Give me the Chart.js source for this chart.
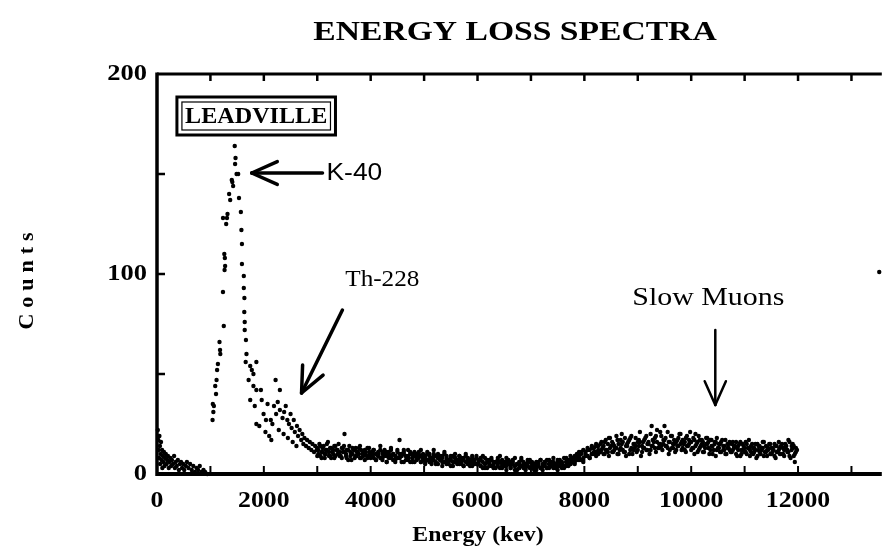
<!DOCTYPE html>
<html><head><meta charset="utf-8">
<script src="https://cdn.jsdelivr.net/npm/chart.js@4.4.1/dist/chart.umd.min.js"></script>
<style>html,body{margin:0;padding:0;background:#fff}canvas{display:block}</style>
</head><body>
<canvas id="c" width="884" height="555" style="width:884px;height:555px"></canvas>
<script>
// ---------- DATA ----------
const titleText = "ENERGY LOSS SPECTRA";
const xTitle = "Energy (kev)";
const yTitle = "Counts";
const xTickLabels = [0, 2000, 4000, 6000, 8000, 10000, 12000];
const yTickLabels = [0, 100, 200];

// low-energy noise 0-1000 keV
const lowE = [15,25,30,40,45,55,60,70,75,85,95,100,110,120,130,140,150,165,180,190,205,220,235,250,265,280,300,320,335,350,370,390,410,430,450,470,490,510,540,560,590,620,650,680,710,740,770,800,830,870,900,940];
const lowC = [22,17,12,8,19,14,5,10,16,7,12,3,9,6,11,4,8,10,5,7,9,3,6,8,4,7,5,9,3,6,4,7,2,5,6,3,5,2,4,6,3,5,2,4,1,3,2,4,1,2,1,0];

// K-40 peak
const peakE = [1040,1045,1055,1065,1090,1105,1115,1125,1140,1170,1180,1185,1250,1235,1265,1275,1270,1260,1295,1236,1310,1320,1370,1350,1400,1410,1425,1455,1462,1470,1490,1520,1535,
               1570,1580,1590,1590,1625,1625,1636,1634,1642,1642,1665,1675,1660,1745,1775,1805,1860,1715,1805,1860,1945,1745,1830,1860,1915];
const peakC = [27,35,31,34,44,40,47,52,55,66,62,60,74,91,102,104,108,110,125,128,128,130,137,140,147,146,144,164,155,158,150,150,138,
               131,122,115,105,99,93,88,81,76,72,67,60,56,54,52,50,56,47,44,42,42,37,34,25,24];

// Th-228 shoulder
const thE = [1960,2070,2190,2300,2410,2500,2220,2300,1995,2040,2130,2160,2100,2230,2260,2350,2380,2440,2470,2520,2560,2580,2620,2640,2670,2700,2720,2740,2760,2790,2810,2840,2860,2890,2910,2940,2960,2990,2030,2140,2280,2370,2450,2540,2610];
const thC = [37,35,34,32,34,30,47,42,30,27,27,25,19,30,36,28,31,27,25,23,27,21,24,19,22,17,20,15,18,14,17,13,16,12,15,11,14,12,21,17,22,20,18,16,14];

// continuum 3000-8300 keV (counts per channel)
const flatE = [3000,3040,3080,3120,3160,3200,3240,3280,3320,3360,3400,3440,3480,3510,3550,3600,3640,3680,3720,3760,3800,3850,3890,3930,3970,
  4000,4050,4100,4140,4180,4220,4260,4300,4340,4380,4420,4460,4500,4540,4580,4620,4660,4700,4740,4780,4820,4860,4900,4940,4980,
  5020,5060,5100,5140,5180,5220,5260,5300,5340,5380,5420,5460,5500,5540,5580,5620,5660,5700,5740,5780,5820,5860,5900,5940,5980,
  6020,6060,6100,6140,6180,6220,6260,6300,6340,6380,6420,6460,6500,6540,6580,6620,6660,6700,6740,6780,6820,6860,6900,6940,6980,
  7020,7060,7100,7140,7180,7220,7260,7300,7340,7380,7420,7460,7500,7540,7580,7620,7660,7700,7740,7780,7820,7860,7900,7940,7980,
  8020,8060,8100,8140,8180,8220,8260];
const flatC = [[13,9],[15],[11,8],[14],[10,12],[16],[9,13],[11],[14,8],[12],[10,15],[9],[13,11],[20],[8,12],[14],[10,7],[12],[9,13],[11],[8,14],[10],[12,7],[9],[13,11],
  [8],[10,12],[7],[11,9],[14],[8,10],[12],[6,9],[11],[8,13],[10],[7,9],[12],[8,17],[10],[6,11],[9],[7,12],[10],[8,6],[11],[9,7],[10],[6,12],[8],
  [9,5],[11],[7,10],[6],[9,12],[5],[8,10],[7],[6,9],[11],[5,8],[7],[9,4],[6],[8,10],[5],[7,9],[6],[8,4],[10],[5,7],[6],[9,4],[7],[5,8],
  [6],[4,7],[9],[5,3],[7],[4,6],[8],[3,5],[6],[4,7],[9],[5,3],[6],[4,8],[5],[3,6],[7],[4,2],[5],[6,3],[8],[4,5],[3],[6,4],[7],
  [3,5],[4],[6,2],[5],[3,7],[4],[6,5],[3],[5,7],[4],[6,3],[5],[7,4],[6],[3,5],[8],[4,6],[7],[5,9],[6],[8,5],[10],[7,9],[11],[8,6],
  [10],[12,9],[8],[13,10],[11],[14,9],[12]];
const flat2E = [3020,3060,3100,3140,3180,3220,3260,3300,3340,3380,3420,3460,3500,3540,3580,3620,3660,3700,3740,3780,3820,3860,3900,3940,3980,
  4020,4060,4100,4140,4180,4220,4260,4300,4340,4380,4420,4460,4500,4540,4580,4620,4660,4700,4740,4780,4820,4860,4900,4940,4980,
  5020,5060,5100,5140,5180,5220,5260,5300,5340,5380,5420,5460,5500,5540,5580,5620,5660,5700,5740,5780,5820,5860,5900,5940,5980,
  6020,6060,6100,6140,6180,6220,6260,6300,6340,6380,6420,6460,6500,6540,6580,6620,6660,6700,6740,6780,6820,6860,6900,6940,6980,
  7020,7060,7100,7140,7180,7220,7260,7300,7340,7380,7420,7460,7500,7540,7580,7620,7660,7700,7740,7780,
  7820,7860,7900,7940,7980,8020,8060,8100,8140,8180,8220,8260];
const flat2C = [[12,10],[9,14],[13,11],[10,8],[15,12],[11,9],[8,13],[12,10],[14,9],[10,12],[9,11],[13,8],[11,14],[10,9],[12,7],[9,11],[13,10],[8,12],[11,9],[10,13],[12,8],[9,11],[11,10],[8,13],[10,9],
  [9,11],[12,8],[7,10],[10,9],[8,12],[11,7],[9,10],[6,11],[10,8],[12,9],[7,10],[9,6],[11,8],[8,10],[6,9],[10,12],[7,9],[9,8],[11,6],[8,10],[6,9],[10,7],[8,11],[9,6],[7,10],
  [8,6],[10,7],[6,9],[8,5],[7,10],[9,6],[5,8],[7,9],[8,4],[6,10],[9,7],[5,6],[7,8],[4,9],[8,6],[6,7],[9,5],[5,8],[7,4],[6,9],[8,5],[4,7],[6,8],[7,5],[5,9],
  [7,5],[4,8],[6,3],[8,5],[3,6],[5,7],[7,4],[4,6],[6,3],[5,8],[3,6],[7,4],[4,5],[6,2],[5,7],[3,4],[6,5],[4,8],[2,5],[5,3],[7,4],[3,6],[5,2],[4,7],[6,3],
  [4,6],[2,5],[5,3],[6,4],[3,7],[5,2],[4,6],[7,3],[3,5],[6,4],[4,8],[5,3],[2,6],[7,4],[5,6],[4,3],[6,8],[5,4],[7,5],[8,6],
  [6,9],[9,7],[8,11],[10,7],[7,12],[11,9],[9,13],[12,8],[10,14],[13,10],[11,15],[14,10]];

// slow-muon bump 8300-12000 keV
const muonE = [8300,8340,8380,8420,8460,8500,8540,8580,8620,8660,8700,8740,8780,8820,8860,8900,8940,8980,9020,9060,9100,9140,9180,9220,9260,9300,9340,9380,9420,9460,
  9500,9540,9580,9620,9660,9700,9740,9780,9820,9860,9900,9940,9980,10020,10060,10100,10140,10180,10220,10260,10300,10340,10380,10420,10460,10500,10540,10580,10620,10660,
  10700,10740,10780,10820,10860,10900,10940,10980,11020,11060,11100,11140,11180,11220,11260,11300,11340,11380,11420,11460,11500,11540,11580,11620,11660,11700,11740,11780,11820,11860,11900,11940,11980];
const muonC = [[15,11],[13],[10,16],[12],[18,9],[14],[11,15],[13],[17,10],[12],[15,20],[11],[14,9],[16],[12,18],[10],[15,13],[11],[17,14],[9],[13,16],[18],[12,15],[10],[24,14],[16],[11,19],[13],[15,21],[12],
  [17,24],[14],[10,16],[19],[13,15],[11],[17,14],[20],[12,16],[15],[18,11],[14],[16,21],[13],[10,17],[15],[12,19],[14],[16,11],[13],[18,15],[10],[14,17],[12],[16,9],[13],[15,11],[17],[12,14],[10],
  [15,13],[11],[16,12],[14],[9,13],[15],[12,10],[14],[11,16],[13],[9,12],[15],[11,13],[8],[14,12],[10],[13,16],[11],[12,9],[15],[10,13],[12],[14,8],[11],[13,10],[15],[9,12],[14],[11,17],[8],[13,15],[10,6],[12]];
const muon2E = [8320,8360,8400,8440,8480,8520,8560,8600,8640,8680,8720,8760,8800,8840,8880,8920,8960,9000,9040,9080,
  9120,9160,9200,9240,9280,9320,9360,9400,9440,9480,9520,9560,9600,9640,9680,9720,9760,9800,9840,9880,
  9920,9960,10000,10040,10080,10120,10160,10200,10240,10280,10320,10360,10400,10440,10480,10520,10560,10600,10640,10680,
  10720,10760,10800,10840,10880,10920,10960,11000,11040,11080,11120,11160,11200,11240,11280,11320,11360,11400,11440,11480,
  11520,11560,11600,11640,11680,11720,11760,11800,11840,11880,11920,11960];
const muon2C = [[12,16],[14,10],[17,12],[11,15],[13,18],[16,11],[12,14],[19,13],[15,10],[13,17],
  [16,12],[11,18],[14,15],[17,10],[13,19],[15,12],[18,14],[12,16],[16,21],[14,11],
  [17,13],[12,19],[15,16],[20,12],[14,17],[18,13],[16,22],[13,15],[19,14],[15,17],
  [14,18],[21,13],[16,12],[13,19],[17,15],[12,16],[18,14],[15,20],[13,17],[16,12],
  [19,14],[15,17],[12,16],[18,13],[14,20],[16,11],[13,17],[17,15],[11,14],[15,18],
  [13,16],[17,12],[14,10],[16,15],[12,18],[15,13],[11,16],[14,12],[17,10],[13,15],
  [12,16],[15,11],[13,14],[10,16],[14,12],[16,9],[12,15],[11,13],[15,10],[13,17],
  [14,11],[10,13],[12,15],[15,9],[11,14],[13,12],[9,16],[14,11],[12,13],[10,15],
  [13,11],[15,9],[11,14],[12,16],[14,10],[10,13],[13,15],[11,12],[16,9],[12,14],
  [14,9],[11,13]];

// stray point at right edge
const strayE = [13520];
const strayC = [101];

// ---------- build points ----------
function pairs(es, cs){ return es.map((e,i)=>({x:e,y:cs[i]})); }
function multi(es, cs){ const out=[]; es.forEach((e,i)=>cs[i].forEach(c=>out.push({x:e,y:c}))); return out; }
const points = [].concat(pairs(lowE,lowC), pairs(peakE,peakC), pairs(thE,thC), multi(flatE,flatC), multi(flat2E,flat2C),
                         multi(muonE,muonC), multi(muon2E,muon2C), pairs(strayE,strayC));

// ---------- drawing helpers ----------
const SERIF = '"Liberation Serif","Times New Roman",serif';
const SANS = '"Liberation Sans",Arial,sans-serif';
function txt(ctx, s, x, y, font, sx, align){
  ctx.save(); ctx.translate(x,y); ctx.scale(sx,1);
  ctx.font=font; ctx.textAlign=align||'center'; ctx.textBaseline='middle'; ctx.fillStyle='#000';
  ctx.fillText(s,0,0); ctx.restore();
}
function line(ctx,x1,y1,x2,y2,w){ctx.beginPath();ctx.moveTo(x1,y1);ctx.lineTo(x2,y2);ctx.lineWidth=w;ctx.stroke();}
function arrow(ctx,x1,y1,x2,y2,w,len,half){
  ctx.lineCap='round';
  line(ctx,x1,y1,x2,y2,w);
  const a=Math.atan2(y2-y1,x2-x1);
  line(ctx,x2,y2,x2-len*Math.cos(a-half),y2-len*Math.sin(a-half),w);
  line(ctx,x2,y2,x2-len*Math.cos(a+half),y2-len*Math.sin(a+half),w);
}

const decor = {
  id:'decor',
  afterDatasetsDraw(chart){
    const ctx=chart.ctx, xs=chart.scales.x, ys=chart.scales.y, a=chart.chartArea;
    const X=v=>xs.getPixelForValue(v), Y=v=>ys.getPixelForValue(v);
    ctx.save(); ctx.strokeStyle='#000'; ctx.fillStyle='#000'; ctx.lineCap='butt';
    // frame
    line(ctx,a.left,a.top-1.5,a.left,a.bottom+2,3.5);
    line(ctx,a.left,a.top,a.right,a.top,3);
    line(ctx,a.left,a.bottom,a.right,a.bottom,4);
    // inward ticks
    for(let v=1000; v<=13000; v+=1000){ line(ctx,X(v),a.top,X(v),a.top+7,2.5); line(ctx,X(v),a.bottom,X(v),a.bottom-8,2); }
    for(let v=50; v<200; v+=50){ line(ctx,a.left,Y(v),a.left+8,Y(v),2.5); }
    // tick labels
    xTickLabels.forEach(v=>txt(ctx,String(v),X(v),501,'bold 23px '+SERIF,1.12,'center'));
    yTickLabels.forEach(v=>txt(ctx,String(v),147,Y(v),'bold 23px '+SERIF,1.15,'right'));
    // titles
    txt(ctx,titleText,515,33,'bold 28px '+SERIF,1.2,'center');
    txt(ctx,xTitle,478,535,'bold 22px '+SERIF,1.08,'center');
    ctx.save(); ctx.translate(27,281); ctx.rotate(-Math.PI/2);
    ctx.font='bold 22px '+SERIF; ctx.textBaseline='middle'; ctx.textAlign='left';
    const sp=6; let tw=0; for(const ch of yTitle) tw+=ctx.measureText(ch).width+sp; tw-=sp;
    let cx=-tw/2; for(const ch of yTitle){ ctx.fillText(ch,cx,0); cx+=ctx.measureText(ch).width+sp; }
    ctx.restore();
    // LEADVILLE box
    const bx1=X(373), bx2=X(3341), by1=Y(188.5), by2=Y(169.5);
    ctx.lineWidth=3; ctx.strokeRect(bx1,by1,bx2-bx1,by2-by1);
    ctx.lineWidth=1.2; ctx.strokeRect(bx1+5,by1+5,bx2-bx1-10,by2-by1-10);
    txt(ctx,'LEADVILLE',(bx1+bx2)/2,(by1+by2)/2+1,'bold 23px '+SERIF,1.05,'center');
    // K-40
    arrow(ctx,X(3098),Y(150.5),X(1773),Y(150.5),3.5,28,0.42);
    txt(ctx,'K-40',X(3173),Y(150.5),'24px '+SANS,1.1,'left');
    // Th-228
    txt(ctx,'Th-228',X(4218),Y(97),'24px '+SERIF,1.05,'center');
    arrow(ctx,X(3471),Y(82),X(2706),Y(40.5),3.5,28,0.42);
    // Slow Muons
    txt(ctx,'Slow Muons',X(10321),Y(88),'26px '+SERIF,1.15,'center');
    arrow(ctx,X(10451),Y(72),X(10451),Y(34.5),2.5,26,0.42);
    ctx.restore();
  }
};

new Chart(document.getElementById('c'), {
  type:'scatter',
  data:{ datasets:[{ data:points, backgroundColor:'#000', borderWidth:0, pointRadius:2.2, pointHoverRadius:2.2, clip:false }] },
  options:{
    responsive:false, animation:false, devicePixelRatio:1,
    layout:{ padding:{ left:0, right:0, top:74, bottom:0 } },
    plugins:{ legend:{display:false}, tooltip:{enabled:false}, title:{display:false} },
    events:[],
    scales:{
      x:{ type:'linear', min:0, max:13568, grid:{display:false}, border:{display:false},
          ticks:{display:false}, afterFit(s){ s.height=81; } },
      y:{ type:'linear', min:0, max:200, grid:{display:false}, border:{display:false},
          ticks:{display:false}, afterFit(s){ s.width=157; } }
    }
  },
  plugins:[decor]
});
</script>
</body></html>
